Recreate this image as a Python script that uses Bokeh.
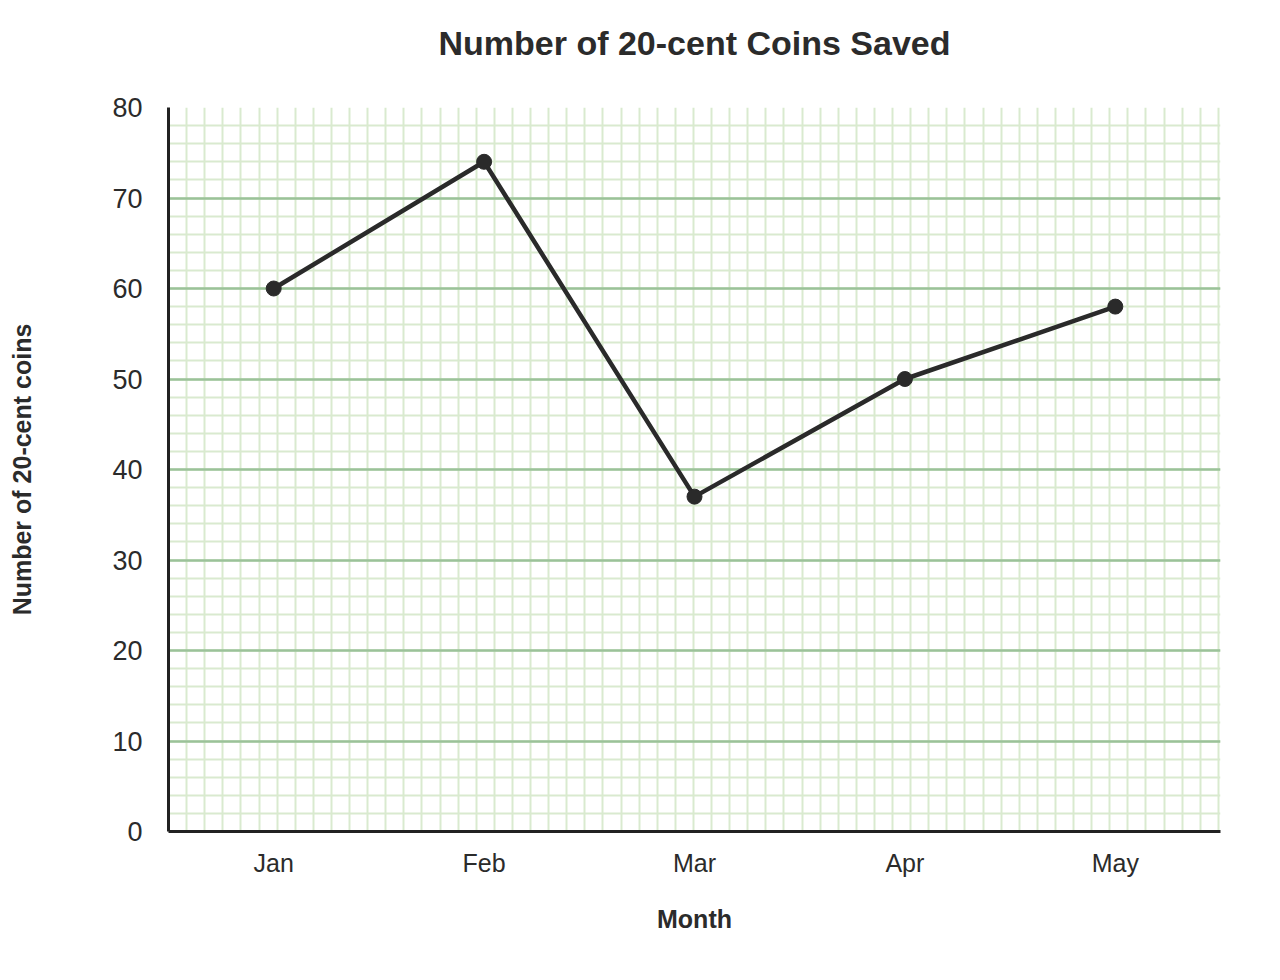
from bokeh.plotting import figure
from bokeh.models import Range1d, FixedTicker, Grid, Title
from bokeh.embed import file_html
from bokeh.resources import INLINE

# ---- data ----
months = ["Jan", "Feb", "Mar", "Apr", "May"]
coins = [60, 74, 37, 50, 58]
y_ticks = [0, 10, 20, 30, 40, 50, 60, 70, 80]
title_text = "Number of 20-cent Coins Saved"
x_label = "Month"
y_label = "Number of 20-cent coins"

# ---- layout / style ----
FONT = "Liberation Sans"
TEXT = "#2b2b2b"
W, H = 1264, 960
B_LEFT, B_RIGHT, B_TOP, B_BOTTOM = 168, 44, 107, 129
FRAME_W, FRAME_H = W - B_LEFT - B_RIGHT, H - B_TOP - B_BOTTOM
Y_MAX = 80
MINOR_STEP = 2

xs = list(range(len(months)))

p = figure(
    width=W, height=H,
    min_border_left=B_LEFT, min_border_right=B_RIGHT,
    min_border_top=B_TOP, min_border_bottom=B_BOTTOM,
    x_range=Range1d(-0.5, len(months) - 0.5),
    y_range=Range1d(0, Y_MAX),
    output_backend="svg", toolbar_location=None,
    title=title_text,
)
p.outline_line_color = None
p.background_fill_color = "white"
p.border_fill_color = "white"

p.title.text_font = FONT
p.title.text_font_size = "34px"
p.title.text_font_style = "bold"
p.title.text_color = TEXT
p.title.align = "center"
p.title.standoff = 40

# spacer between title and plot area
p.add_layout(Title(text=" ", text_font_size="2px", standoff=22), "above")

p.xgrid.visible = False
p.ygrid.visible = False

# minor grid (square cells of MINOR_STEP y-units)
px_per_unit_y = FRAME_H / Y_MAX
px_per_unit_x = FRAME_W / len(months)
dx = MINOR_STEP * px_per_unit_y / px_per_unit_x
vticks = []
k = 1
while -0.5 + k * dx < len(months) - 0.5 + 1e-6:
    vticks.append(-0.5 + k * dx)
    k += 1
hticks = [v for v in range(0, Y_MAX + 1, MINOR_STEP)]

minor_color = "#d9eacf"
p.add_layout(Grid(dimension=0, ticker=FixedTicker(ticks=vticks),
                  grid_line_color=minor_color, grid_line_width=2))
p.add_layout(Grid(dimension=1, ticker=FixedTicker(ticks=hticks),
                  grid_line_color=minor_color, grid_line_width=2))
p.add_layout(Grid(dimension=1, ticker=FixedTicker(ticks=y_ticks),
                  grid_line_color="#9bc299", grid_line_width=2.5))

# axes
for ax in (p.xaxis[0], p.yaxis[0]):
    ax.axis_line_color = "#222222"
    ax.axis_line_width = 3
    ax.major_tick_line_color = None
    ax.minor_tick_line_color = None
    ax.major_label_text_font = FONT
    ax.major_label_text_color = TEXT
    ax.axis_label_text_font = FONT
    ax.axis_label_text_font_style = "bold"
    ax.axis_label_text_color = TEXT
    ax.axis_label_text_font_size = "25px"

p.xaxis.ticker = FixedTicker(ticks=xs)
p.xaxis.major_label_overrides = {i: m for i, m in zip(xs, months)}
p.xaxis.major_label_text_font_size = "25px"
p.xaxis.major_label_standoff = 11
p.xaxis.axis_label = x_label
p.xaxis.axis_label_standoff = 25

p.yaxis.ticker = FixedTicker(ticks=y_ticks)
p.yaxis.major_label_text_font_size = "27px"
p.yaxis.major_label_standoff = 20
p.yaxis.axis_label = y_label
p.yaxis.axis_label_standoff = 73

# data
p.line(xs, coins, line_width=4.5, line_color="#2a2a2a")
p.scatter(xs, coins, size=15, fill_color="#2a2a2a", line_color="#2a2a2a")

open("out.html", "w").write(file_html(p, INLINE))
